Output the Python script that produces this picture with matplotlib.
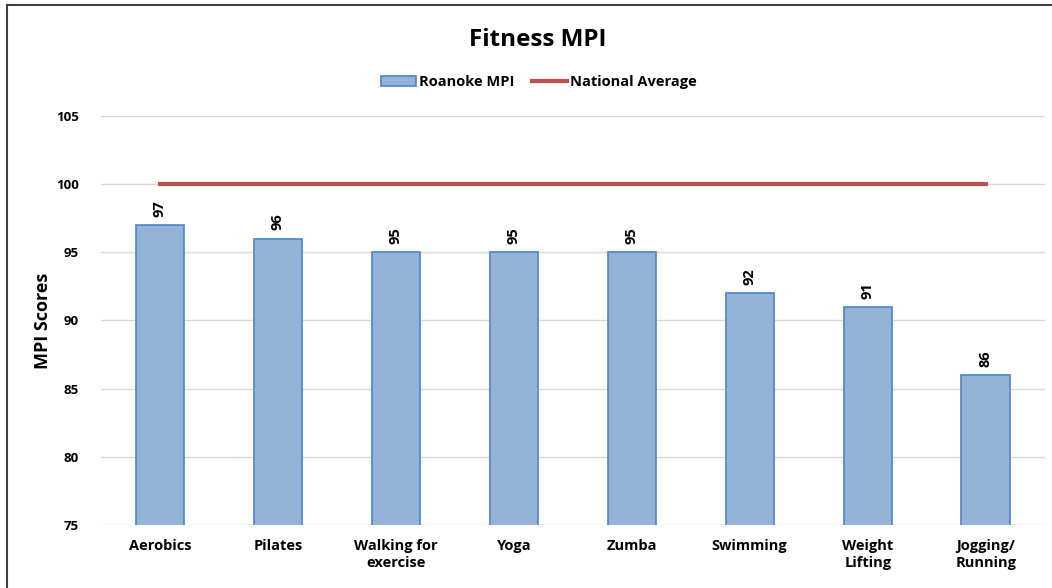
import matplotlib.pyplot as plt
import numpy as np

plt.rcParams['font.family'] = ['Open Sans', 'DejaVu Sans']

# data
categories = ['Aerobics', 'Pilates', 'Walking for\nexercise', 'Yoga', 'Zumba',
              'Swimming', 'Weight\nLifting', 'Jogging/\nRunning']
roanoke = [97, 96, 95, 95, 95, 92, 91, 86]
national = [100] * 8
yticks = [75, 80, 85, 90, 95, 100, 105]

fig = plt.figure(figsize=(10.52, 5.88), dpi=100)
ax = fig.add_axes([0.096, 0.107, 0.897, 0.696])

x = np.arange(len(categories))
bars = ax.bar(x, roanoke, width=0.41, bottom=0, color='#95B3D7',
              edgecolor='#4A86C8', linewidth=1.2, label='Roanoke MPI', zorder=3)
line, = ax.plot(x, national, color='#C0504D', linewidth=3, label='National Average', zorder=4)

for xi, v in zip(x, roanoke):
    ax.text(xi, v + 0.6, str(v), rotation=90, ha='center', va='bottom',
            fontsize=10.5, fontweight='bold')

ax.set_xlim(-0.5, len(categories) - 0.5)
ax.set_ylim(75, 105)
ax.set_yticks(yticks)
ax.set_xticks(x)
ax.set_xticklabels(categories, fontsize=10.5, fontweight='bold', linespacing=1.3)
ax.tick_params(axis='y', labelsize=9.5, length=0, pad=16)
ax.tick_params(axis='x', length=0, pad=10)
for lbl in ax.get_yticklabels():
    lbl.set_fontweight('bold')
ax.grid(axis='y', color='#D9D9D9', linewidth=1, zorder=0)
for s in ax.spines.values():
    s.set_visible(False)
ax.set_ylabel('MPI Scores', fontsize=13, fontweight='bold', labelpad=3)

fig.text(0.511, 0.932, 'Fitness MPI', ha='center', va='center',
         fontsize=17.5, fontweight='bold')
fig.legend([bars, line], ['Roanoke MPI', 'National Average'], loc='center',
           bbox_to_anchor=(0.512, 0.86), ncol=2, frameon=False,
           prop={'weight': 'bold', 'size': 10.5}, handlelength=2.4,
           handletextpad=0.2, columnspacing=1.2)

# outer frame
fig.add_artist(plt.Line2D([0.0067, 0.0067], [0, 0.992], color='#404040',
                          linewidth=1.5, transform=fig.transFigure))
fig.add_artist(plt.Line2D([0.0067, 1.0], [0.992, 0.992], color='#404040',
                          linewidth=1.5, transform=fig.transFigure))

fig.savefig('out.png', dpi=100)
